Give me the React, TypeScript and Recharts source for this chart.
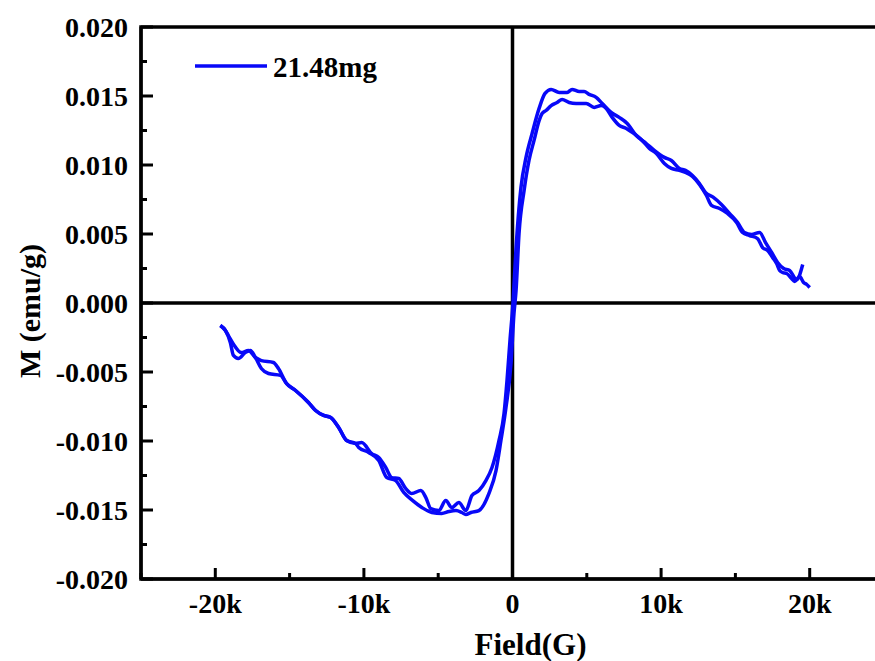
import React from 'react';
import { LineChart, Line, XAxis, YAxis, ReferenceLine, ReferenceArea, Legend } from 'recharts';

// Descending branch (field swept from +20k down to -20k)
const descH = [19530, 19120, 18650, 18250, 17840, 17440, 17030, 16630, 16090, 15610, 15140, 14600, 14060, 13520, 12980, 12580, 12110, 11640, 11230, 10690, 10220, 9540, 9000, 8330, 7720, 7180, 6640, 6040, 5630, 5160, 4820, 4490, 4010, 3680, 3140, 2600, 2190, 1790, 1320, 910, 570, 240, 30, -170, -370, -570, -910, -1380, -1790, -2260, -2730, -3140, -3610, -4080, -4490, -4960, -5500, -5830, -6170, -6780, -7180, -7660, -8130, -8530, -9000, -9480, -10150, -10560, -11160, -11700, -12240, -12710, -13250, -13730, -14600, -15210, -15750, -16090, -16900, -17300, -17770, -18250, -18720, -19120, -19320, -19660];
const descM = [0.00279, 0.0017, 0.00236, 0.0025, 0.00294, 0.00366, 0.00438, 0.00511, 0.00497, 0.00511, 0.00584, 0.00649, 0.00714, 0.00765, 0.00801, 0.00866, 0.00924, 0.00961, 0.00975, 0.01033, 0.01055, 0.01106, 0.01156, 0.01214, 0.01301, 0.01345, 0.01381, 0.01446, 0.0149, 0.01512, 0.01533, 0.01533, 0.01548, 0.01526, 0.01526, 0.01548, 0.01519, 0.0141, 0.01229, 0.01055, 0.00837, 0.00402, -0.00004, -0.00272, -0.00562, -0.00801, -0.00997, -0.01192, -0.01287, -0.01359, -0.01395, -0.01504, -0.01446, -0.01482, -0.01432, -0.01504, -0.0149, -0.0141, -0.01359, -0.01381, -0.01345, -0.01272, -0.01265, -0.01192, -0.0112, -0.01091, -0.01011, -0.01018, -0.00997, -0.00902, -0.0083, -0.00815, -0.00779, -0.00721, -0.00634, -0.00583, -0.00475, -0.00431, -0.00417, -0.00395, -0.00344, -0.00359, -0.00308, -0.00236, -0.00199, -0.00163];

// Ascending branch (field swept from -20k back up to +20k)
const ascH = [-19660, -19320, -18990, -18780, -18450, -17980, -17640, -17300, -16900, -16420, -15610, -15210, -14600, -13730, -13250, -12710, -12240, -11700, -11160, -10560, -10350, -9680, -9000, -8460, -7860, -7320, -6710, -6100, -5430, -4760, -4280, -3810, -3410, -3140, -2800, -2260, -1590, -1110, -780, -440, -100, 100, 240, 440, 780, 1110, 1450, 1790, 1990, 2260, 2600, 3000, 3340, 3810, 4280, 4960, 5500, 5970, 6310, 6710, 7180, 7660, 8060, 8730, 9210, 9680, 10220, 10690, 11230, 11640, 12110, 12580, 13050, 13390, 13930, 14470, 15080, 15480, 15950, 16490, 16830, 17170, 17500, 17770, 17980, 18180, 18450, 18780, 18990, 19320, 19590, 19800, 20000];
const ascM = [-0.00163, -0.00199, -0.00286, -0.0038, -0.00402, -0.00359, -0.00344, -0.00395, -0.00475, -0.00511, -0.00525, -0.00583, -0.00634, -0.00721, -0.00779, -0.00815, -0.0083, -0.00902, -0.00997, -0.01018, -0.01047, -0.01083, -0.01141, -0.01265, -0.01287, -0.01373, -0.01432, -0.01482, -0.01518, -0.01525, -0.01511, -0.01504, -0.01518, -0.01533, -0.01518, -0.01504, -0.01381, -0.01214, -0.00997, -0.00757, -0.00438, -0.00076, 0.00091, 0.00504, 0.00815, 0.01033, 0.01178, 0.01322, 0.01373, 0.01395, 0.01431, 0.01453, 0.01475, 0.01453, 0.01446, 0.01446, 0.01417, 0.01431, 0.0141, 0.01345, 0.01287, 0.01265, 0.01236, 0.01178, 0.0112, 0.01083, 0.01011, 0.00975, 0.00961, 0.00946, 0.00917, 0.00859, 0.00779, 0.00707, 0.00685, 0.00649, 0.00584, 0.00511, 0.00489, 0.00467, 0.00402, 0.0038, 0.0033, 0.00286, 0.00236, 0.00221, 0.00214, 0.00178, 0.00156, 0.00192, 0.00149, 0.00134, 0.00112];

const xTicks = [-25000, -20000, -15000, -10000, -5000, 0, 5000, 10000, 15000, 20000, 25000];
const xMajor = [-20000, -10000, 0, 10000, 20000];
const xLabels = ['-20k', '-10k', '0', '10k', '20k'];
const yTicks = [-0.02, -0.0175, -0.015, -0.0125, -0.01, -0.0075, -0.005, -0.0025, 0, 0.0025, 0.005, 0.0075, 0.01, 0.0125, 0.015, 0.0175, 0.02];
const yMajor = [-0.02, -0.015, -0.01, -0.005, 0, 0.005, 0.01, 0.015, 0.02];
const yLabels = ['-0.020', '-0.015', '-0.010', '-0.005', '0.000', '0.005', '0.010', '0.015', '0.020'];
const seriesName = '21.48mg';

const descData = descH.map((h, i) => ({ h, m: descM[i] }));
const ascData = ascH.map((h, i) => ({ h, m: ascM[i] }));

const FONT = '"Liberation Serif", "Times New Roman", serif';
const BLUE = '#0808f8';

const XTick = (props: any) => {
  const { x, y, payload } = props;
  const idx = xMajor.indexOf(payload.value);
  const major = idx >= 0;
  return (
    <g>
      <line x1={x} y1={y} x2={x} y2={y - (major ? 11 : 6)} stroke="#000" strokeWidth={3} />
      {major && (
        <text x={x} y={y + 34} textAnchor="middle" fontFamily={FONT} fontWeight="bold" fontSize={28} fill="#000">
          {xLabels[idx]}
        </text>
      )}
    </g>
  );
};

const YTick = (props: any) => {
  const { x, y, payload } = props;
  const idx = yMajor.findIndex((v) => Math.abs(v - payload.value) < 1e-9);
  const major = idx >= 0;
  return (
    <g>
      <line x1={x} y1={y} x2={x + (major ? 12 : 6)} y2={y} stroke="#000" strokeWidth={3} />
      {major && (
        <text x={x - 13} y={y + 9.5} textAnchor="end" fontFamily={FONT} fontWeight="bold" fontSize={28} fill="#000">
          {yLabels[idx]}
        </text>
      )}
    </g>
  );
};

const XLabel = (props: any) => {
  const vb = props.viewBox;
  return (
    <text x={vb.x + vb.width / 2 + 18} y={vb.y + 76} textAnchor="middle" fontFamily={FONT} fontWeight="bold" fontSize={31} fill="#000">
      Field(G)
    </text>
  );
};

const YLabel = (props: any) => {
  const vb = props.viewBox;
  const cx = vb.x + 29;
  const cy = vb.y + vb.height / 2 + 8;
  return (
    <text x={cx} y={cy} transform={`rotate(-90, ${cx}, ${cy})`} textAnchor="middle" dominantBaseline="central" fontFamily={FONT} fontWeight="bold" fontSize={30} fill="#000">
      M (emu/g)
    </text>
  );
};

const LegendContent = () => (
  <svg width={220} height={36} style={{ display: 'block' }}>
    <line x1={5} y1={16} x2={77} y2={16} stroke={BLUE} strokeWidth={3.5} />
    <text x={83} y={27} fontFamily={FONT} fontWeight="bold" fontSize={29} fill="#000">
      {seriesName}
    </text>
  </svg>
);

export default function App() {
  return (
    <div style={{ position: 'fixed', left: 0, top: 0, width: 875, height: 661, overflow: 'hidden', background: '#fff' }}>
      <LineChart width={900} height={661} margin={{ top: 27, right: 16, left: 0, bottom: 0 }}>
        <XAxis
          xAxisId={0}
          type="number"
          dataKey="h"
          domain={[-25000, 25000]}
          ticks={xTicks}
          interval={0}
          allowDataOverflow
          height={82}
          tickSize={0}
          tickMargin={0}
          tickLine={false}
          tick={<XTick />}
          axisLine={{ stroke: '#000', strokeWidth: 3 }}
          label={<XLabel />}
        />
        <YAxis
          yAxisId={0}
          type="number"
          dataKey="m"
          domain={[-0.02, 0.02]}
          ticks={yTicks}
          interval={0}
          allowDataOverflow
          width={141}
          tickSize={0}
          tickMargin={0}
          tickLine={false}
          tick={<YTick />}
          axisLine={{ stroke: '#000', strokeWidth: 3 }}
          label={<YLabel />}
        />
        <ReferenceArea x1={-25000} x2={25000} y1={-0.02} y2={0.02} ifOverflow="visible" fill="none" stroke="#000" strokeWidth={3.5} />
        <ReferenceLine x={0} ifOverflow="visible" stroke="#000" strokeWidth={3.5} />
        <ReferenceLine y={0} ifOverflow="visible" stroke="#000" strokeWidth={3.5} />
        <Line data={descData} dataKey="m" name={seriesName} type="monotone" stroke={BLUE} strokeWidth={3.5} dot={false} isAnimationActive={false} />
        <Line data={ascData} dataKey="m" name={seriesName + ' '} type="monotone" stroke={BLUE} strokeWidth={3.5} dot={false} legendType="none" isAnimationActive={false} />
        <Legend layout="vertical" align="center" verticalAlign="middle" content={<LegendContent />} wrapperStyle={{ position: 'absolute', left: 190, top: 50, width: 'auto' }} />
      </LineChart>
    </div>
  );
}
